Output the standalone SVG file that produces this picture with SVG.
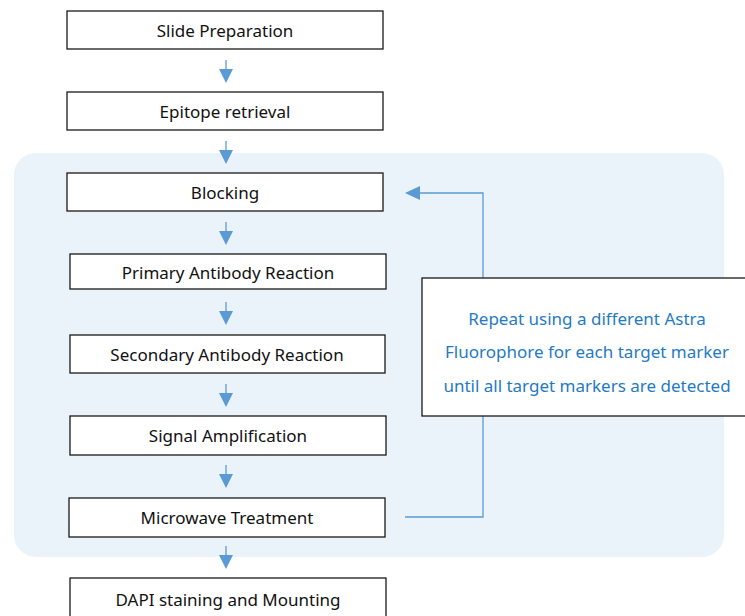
<svg xmlns="http://www.w3.org/2000/svg" width="745" height="616" viewBox="0 0 745 616">
  <style>
    .box { fill: #ffffff; stroke: #1a1a1a; stroke-width: 1.3; }
    .lbl { font-family: "Noto Sans", "Liberation Sans", sans-serif; font-size: 17px; fill: #111111; text-anchor: middle; dominant-baseline: central; }
    .note { font-family: "Noto Sans", "Liberation Sans", sans-serif; font-size: 17px; fill: #1f7ac6; text-anchor: middle; dominant-baseline: central; }
    .flow { stroke: #5b9bd5; stroke-width: 1.3; fill: none; }
    .head { fill: #5b9bd5; }
  </style>

  <!-- loop region -->
  <rect id="loop-region" x="14" y="153" width="710" height="404" rx="22" ry="22" fill="#eaf2fa"/>

  <!-- connectors -->
  <g id="connectors">
    <g>
      <line class="flow" x1="226" y1="60" x2="226" y2="70"/>
      <polygon class="head" points="219,69 233,69 226,83"/>
    </g>
    <g>
      <line class="flow" x1="226" y1="141" x2="226" y2="151"/>
      <polygon class="head" points="219,150 233,150 226,164"/>
    </g>
    <g>
      <line class="flow" x1="226" y1="222" x2="226" y2="232"/>
      <polygon class="head" points="219,231 233,231 226,245"/>
    </g>
    <g>
      <line class="flow" x1="226" y1="302" x2="226" y2="312"/>
      <polygon class="head" points="219,311 233,311 226,325"/>
    </g>
    <g>
      <line class="flow" x1="226" y1="384" x2="226" y2="394"/>
      <polygon class="head" points="219,393 233,393 226,407"/>
    </g>
    <g>
      <line class="flow" x1="226" y1="465" x2="226" y2="475"/>
      <polygon class="head" points="219,474 233,474 226,488"/>
    </g>
    <g>
      <line class="flow" x1="226" y1="546" x2="226" y2="556"/>
      <polygon class="head" points="219,555 233,555 226,569"/>
    </g>
    <!-- feedback loop -->
    <g>
      <polyline class="flow" points="405,517 483,517 483,193 418,193"/>
      <polygon class="head" points="405,193 420,186 420,200"/>
    </g>
  </g>

  <!-- steps -->
  <g id="slide-preparation">
    <rect class="box" x="67" y="11" width="316" height="38"/>
    <text class="lbl" x="225" y="30">Slide Preparation</text>
  </g>
  <g id="epitope-retrieval">
    <rect class="box" x="67" y="92" width="316" height="38"/>
    <text class="lbl" x="225" y="111">Epitope retrieval</text>
  </g>
  <g id="blocking">
    <rect class="box" x="67" y="173" width="316" height="38"/>
    <text class="lbl" x="225" y="192">Blocking</text>
  </g>
  <g id="primary-antibody">
    <rect class="box" x="70" y="254" width="316" height="35"/>
    <text class="lbl" x="228" y="272">Primary Antibody Reaction</text>
  </g>
  <g id="secondary-antibody">
    <rect class="box" x="70" y="335" width="315" height="38"/>
    <text class="lbl" x="227" y="354">Secondary Antibody Reaction</text>
  </g>
  <g id="signal-amplification">
    <rect class="box" x="70" y="416" width="316" height="39"/>
    <text class="lbl" x="228" y="435">Signal Amplification</text>
  </g>
  <g id="microwave-treatment">
    <rect class="box" x="69" y="498" width="316" height="39"/>
    <text class="lbl" x="227" y="517">Microwave Treatment</text>
  </g>
  <g id="dapi-mounting">
    <rect class="box" x="70" y="578" width="316" height="44"/>
    <text class="lbl" x="228" y="599">DAPI staining and Mounting</text>
  </g>

  <!-- repeat note -->
  <g id="repeat-note">
    <rect class="box" x="422" y="278" width="330" height="138"/>
    <text class="note" x="587" y="318">Repeat using a different Astra</text>
    <text class="note" x="587" y="351">Fluorophore for each target marker</text>
    <text class="note" x="587" y="385">until all target markers are detected</text>
  </g>
</svg>
